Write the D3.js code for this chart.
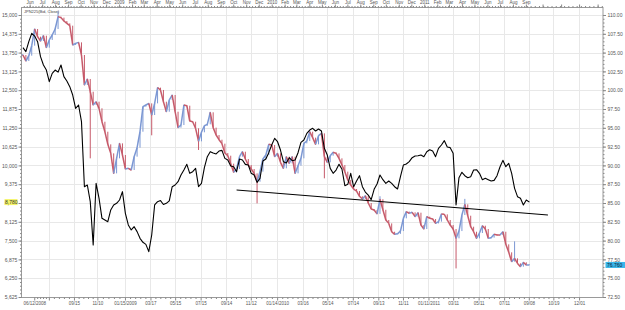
<!DOCTYPE html>
<html><head><meta charset="utf-8">
<script src="https://cdn.jsdelivr.net/npm/d3@7"></script>
<style>html,body{margin:0;padding:0;background:#fff;}svg{display:block;}</style>
</head><body><svg id="c" width="625" height="310"></svg>
<script>
// ---------- data (weekly samples) ----------
const weekStart = "2008-05-16";
const seriesName = "JPN225(Bid, Close)";
// Black line, left axis
const nikkei = [13914,13781,14113,14390,14300,14113,13615,13338,13171,12784,13061,13171,13100,13338,12950,12806,12617,12340,11897,12008,
11454,9292,9348,8795,7354,9404,8906,8241,8185,8130,8518,8684,8740,8850,9127,8407,8019,7853,7963,7798,
7576,7443,7376,7133,7686,8684,8795,8830,8700,8740,
8820,9292,9348,9459,9680,9846,10035,9736,9791,9902,9292,9403,9924,10290,10456,10410,10380,10478,10500,10234,
10179,9979,9957,9791,10212,10179,10035,10013,9736,9680,9436,9569,10146,10212,10423,10678,10899,10788,10511,10124,
10080,10256,10157,10179,10423,10766,10844,11065,11176,11232,
11143,11210,11143,10567,10345,9902,9736,9846,10035,9880,9326,9370,9736,9292,9481,9658,9292,9115,9015,8860,
9204,9381,9680,9525,9403,9481,9403,9292,9215,9625,10013,10046,10124,10256,10312,10323,10345,10290,10456,10522,
10478,10290,10567,10678,10822,10611,10590,10400,
8683,9592,9769,9658,9592,9625,9846,9857,9736,9525,9569,9525,9481,9503,9658,9946,10168,9957,10068,9736,
9237,8960,8905,8683,8849,8780];
// Candles, right axis (weekly close)
const fxClose = [104.68,103.88,104.59,105.92,108.14,107.12,106.54,107.25,105.66,106.68,107.34,108.14,109.78,109.65,109.20,108.89,108.58,106.01,106.23,106.36,
104.68,100.69,101.49,99.80,98.03,98.47,97.59,95.81,94.48,92.80,91.60,88.94,90.94,92.93,91.38,89.52,89.61,89.39,91.16,92.36,
94.48,97.81,98.03,98.25,96.70,98.25,100.34,100.03,98.47,97.14,
98.70,99.36,97.14,95.02,95.37,98.03,97.94,95.90,95.81,94.93,93.20,94.40,95.28,95.46,97.06,95.02,94.04,93.42,92.89,91.65,
91.29,90.23,89.08,89.52,91.16,91.82,90.85,90.05,89.52,88.94,87.83,89.17,90.85,91.38,92.80,92.71,91.16,91.60,90.41,89.61,
91.16,90.27,91.16,88.94,89.96,90.94,92.93,93.24,94.48,93.69,
92.80,93.95,94.26,91.16,90.41,91.29,91.74,91.60,90.94,90.05,89.17,88.06,87.39,86.86,86.59,85.89,85.53,85.97,85.00,84.20,
84.07,83.55,85.50,84.10,82.74,82.29,81.18,80.83,80.90,81.27,82.96,83.85,83.62,83.76,83.18,83.71,82.07,81.54,83.18,82.96,
82.87,82.29,82.52,83.53,83.49,82.74,82.07,81.54,
80.30,81.27,83.40,84.82,83.31,81.85,81.18,80.30,81.01,81.98,81.54,80.30,80.39,80.83,80.75,80.74,81.18,79.50,78.44,77.20,
77.64,76.97,76.53,77.11,76.75,76.76];
const fxSpikeWeek  = [12, 23, 44, 60, 80, 103, 122, 148, 151, 168];
const fxSpikeValue = [110.50, 90.94, 94.00, 92.05, 84.95, 88.28, 85.90, 76.30, 85.55, 79.90];
// Trend line (left axis)
const trendDates = ["2009-10-09", "2011-10-10"];
const trendValues = [9182, 8351];
// Axis ticks
const leftTicks = [5625,6250,6875,7500,8125,8750,9375,10000,10625,11250,11875,12500,13125,13750,14375,15000];
const rightTicks = [72.5,75,77.5,80,82.5,85,87.5,90,92.5,95,97.5,100,102.5,105,107.5,110];
const topLabels = ["Jun","Jul","Aug","Sep","Oct","Nov","Dec","2009","Feb","Mar","Apr","May","Jun","Jul","Aug","Sep","Oct","Nov","Dec",
"2010","Feb","Mar","Apr","May","Jun","Jul","Aug","Sep","Oct","Nov","Dec","2011","Feb","Mar","Apr","May","Jun","Jul","Aug","Sep"];
const bottomTickDates = ["2008-06-12","2008-07-17","2008-09-15","2008-11-10","2009-01-15","2009-03-17","2009-05-15","2009-07-15","2009-09-14","2009-11-12",
"2010-01-14","2010-03-16","2010-05-14","2010-07-14","2010-09-13","2010-11-11","2011-01-11","2011-03-11","2011-05-11","2011-07-11","2011-09-08","2011-10-19","2011-12-01"];
const bottomTickLabels = ["06/12/2008","","09/15","11/10","01/15/2009","03/17","05/15","07/15","09/14","11/12",
"01/14/2010","03/16","05/14","07/14","09/13","11/11","01/11/2011","03/11","05/11","07/11","09/08","10/19","12/01"];

// ---------- layout ----------
const parse = d3.timeParse("%Y-%m-%d");
const L = 21.5, R = 603, T = 7.5, B = 297.5;
const svg = d3.select("#c");
const x = d3.scaleTime()
  .domain([parse("2008-05-13"), parse("2011-09-08"), parse("2012-01-10")])
  .range([21.7, 528.8, 603]);
const yL = d3.scaleLinear().domain([5625, 15000]).range([297, 15]);
const yR = d3.scaleLinear().domain([72.5, 110]).range([297, 15]);
const start = parse(weekStart);
const wDate = i => d3.timeWeek.offset(start, i);
const font = "Liberation Sans, Arial, sans-serif";
const txt = "#555";

// grid
const grid = svg.append("g").attr("stroke", "#e8e8e8").attr("stroke-width", 1);
leftTicks.slice(1).forEach(v => grid.append("line").attr("x1", L).attr("x2", R)
  .attr("y1", Math.round(yL(v)) + 0.5).attr("y2", Math.round(yL(v)) + 0.5));
bottomTickDates.slice(1).forEach(d => grid.append("line")
  .attr("x1", Math.round(x(parse(d))) + 0.5).attr("x2", Math.round(x(parse(d))) + 0.5)
  .attr("y1", T).attr("y2", B));

// clip
svg.append("clipPath").attr("id", "clip").append("rect")
  .attr("x", L).attr("y", T).attr("width", R - L).attr("height", B - T);
const plot = svg.append("g").attr("clip-path", "url(#clip)");

// candles: open = previous close; drawn as thin bars joined to the previous bar
const red = "#c65a6a", blue = "#7b97d3";
const cg = plot.append("g").attr("stroke-linecap", "butt");
fxClose.forEach((c, i) => {
  const o = i ? fxClose[i - 1] : c;
  const col = c >= o ? blue : red;
  const xp = i ? x(wDate(i - 1)) : x(wDate(i)) - 1.5;
  const xc = x(wDate(i));
  cg.append("line").attr("x1", xp).attr("y1", yR(o)).attr("x2", xc).attr("y2", yR(c))
    .attr("stroke", col).attr("stroke-width", 1.5);
  cg.append("line").attr("x1", xc).attr("x2", xc)
    .attr("y1", yR(o)).attr("y2", yR(c) + (c >= o ? -0.5 : 0.5))
    .attr("stroke", col).attr("stroke-width", 1);
  const si = fxSpikeWeek.indexOf(i);
  if (si >= 0) {
    cg.append("line").attr("x1", xc).attr("x2", xc)
      .attr("y1", yR(c)).attr("y2", yR(fxSpikeValue[si]))
      .attr("stroke", col).attr("stroke-width", 1);
  }
});

// black line
plot.append("path").datum(nikkei)
  .attr("fill", "none").attr("stroke", "#000").attr("stroke-width", 1.1)
  .attr("stroke-linejoin", "round")
  .attr("d", d3.line().x((v, i) => x(wDate(i))).y(v => yL(v)));

// trend line
plot.append("line")
  .attr("x1", x(parse(trendDates[0]))).attr("y1", yL(trendValues[0]))
  .attr("x2", x(parse(trendDates[1]))).attr("y2", yL(trendValues[1]))
  .attr("stroke", "#000").attr("stroke-width", 1);

// frame
svg.append("rect").attr("x", L).attr("y", T).attr("width", R - L).attr("height", B - T)
  .attr("fill", "none").attr("stroke", "#9a9a9a").attr("stroke-width", 1);

function styleAxis(g, size) {
  g.select(".domain").remove();
  g.selectAll("line").attr("stroke", "#888");
  g.selectAll("text").attr("fill", txt).style("font-family", font).style("font-size", size + "px");
}
const minorVals = [];
for (let v = 5625; v <= 15000; v += 125) minorVals.push(v);

// left axis
const gl = svg.append("g").attr("transform", `translate(${L},0)`)
  .call(d3.axisLeft(yL).tickValues(leftTicks).tickFormat(d3.format(",")).tickSize(3).tickPadding(1.2));
styleAxis(gl, 5);
svg.append("g").attr("transform", `translate(${L},0)`)
  .call(d3.axisLeft(yL).tickValues(minorVals).tickFormat("").tickSize(1.5)).call(g => styleAxis(g, 5));
// right axis
const gr = svg.append("g").attr("transform", `translate(${R},0)`)
  .call(d3.axisRight(yR).tickValues(rightTicks).tickFormat(d3.format(".2f")).tickSize(3).tickPadding(1.5));
styleAxis(gr, 5);
svg.append("g").attr("transform", `translate(${R},0)`)
  .call(d3.axisRight(yL).tickValues(minorVals).tickFormat("").tickSize(1.5)).call(g => styleAxis(g, 5));

// top axis
const months = d3.timeMonth.range(parse("2008-06-01"), parse("2012-01-10"));
const gt = svg.append("g").attr("transform", `translate(0,${T})`)
  .call(d3.axisTop(x).tickValues(months).tickSize(3).tickPadding(0.8)
    .tickFormat((d, i) => topLabels[i] || ""));
styleAxis(gt, 4.5);
const weeks = d3.timeWeek.range(parse("2008-05-14"), parse("2012-01-10"));
svg.append("g").attr("transform", `translate(0,${T})`)
  .call(d3.axisTop(x).tickValues(weeks).tickFormat("").tickSize(1.5)).call(g => styleAxis(g, 4.5));

// bottom axis
const bd = bottomTickDates.map(parse);
const gb = svg.append("g").attr("transform", `translate(0,${B})`)
  .call(d3.axisBottom(x).tickValues(bd).tickSize(3).tickPadding(1.3)
    .tickFormat((d, i) => bottomTickLabels[i]));
styleAxis(gb, 4.5);
const bMinor = [];
for (let i = 0; i < bd.length - 1; i++) {
  for (let k = 1; k < 5; k++) bMinor.push(new Date(+bd[i] + (bd[i + 1] - bd[i]) * k / 5));
}
svg.append("g").attr("transform", `translate(0,${B})`)
  .call(d3.axisBottom(x).tickValues(bMinor).tickFormat("").tickSize(1.5)).call(g => styleAxis(g, 4.5));

// series label
svg.append("text").attr("x", L + 2.5).attr("y", T + 5.5).text(seriesName)
  .attr("fill", "#444").style("font-family", font).style("font-size", "4px");

// last value labels
const lastN = nikkei[nikkei.length - 1], lastF = fxClose[fxClose.length - 1];
const ly = yL(lastN);
svg.append("rect").attr("x", 4.5).attr("y", ly - 3).attr("width", 13).attr("height", 6).attr("fill", "#f4f466");
svg.append("text").attr("x", 17.5).attr("y", ly + 1.8).attr("text-anchor", "end")
  .text(d3.format(",")(lastN)).attr("fill", "#333").style("font-family", font).style("font-size", "5px");
const ry = yR(lastF);
svg.append("rect").attr("x", R + 2.5).attr("y", ry - 3).attr("width", 19.5).attr("height", 6).attr("fill", "#39b6ea");
svg.append("text").attr("x", R + 4).attr("y", ry + 1.8)
  .text(d3.format(".3f")(lastF)).attr("fill", "#123").style("font-family", font).style("font-size", "5px");
</script>
</body></html>
